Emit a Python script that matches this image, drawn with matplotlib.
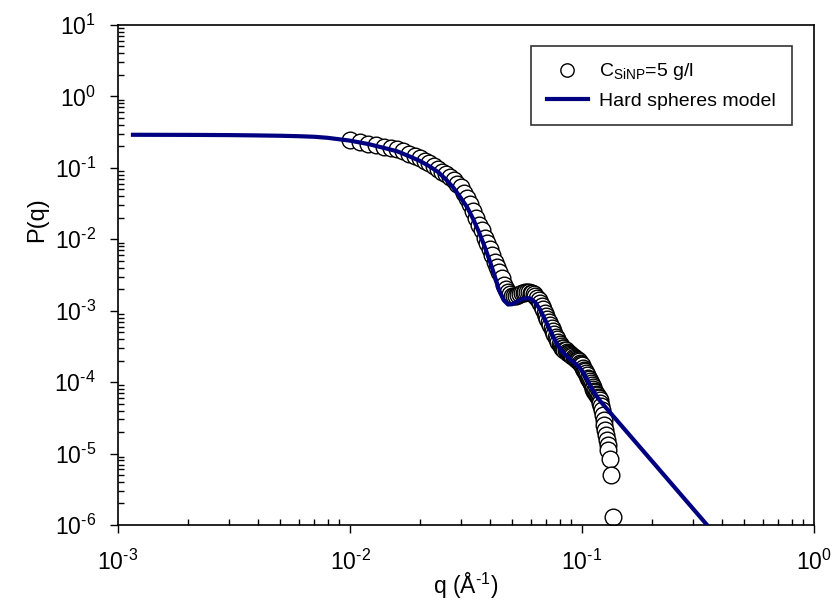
import numpy as np
import matplotlib
matplotlib.use("Agg")
import matplotlib.pyplot as plt
from matplotlib.ticker import LogLocator, NullFormatter, FuncFormatter

plt.rcParams['font.family'] = ['Liberation Sans', 'DejaVu Sans']
plt.rcParams['mathtext.fontset'] = 'custom'
plt.rcParams['mathtext.rm'] = 'Liberation Sans'
plt.rcParams['mathtext.it'] = 'Liberation Sans:italic'

# Measured data, C_SiNP = 5 g/l  (q in 1e-3 A^-1)
q_data_milli = [10, 11, 12, 13, 14, 15, 16, 17, 18, 19, 20, 21, 22, 23, 24, 25, 26, 27, 28, 29,
                30, 31, 32, 33, 34, 35, 36, 37, 38, 39, 40, 41, 42, 43, 44, 45, 46, 47, 48, 49,
                50, 51, 52, 53, 54, 55, 56, 57, 58, 59, 60, 61, 62, 63, 64, 65, 66, 67, 68, 69,
                70, 71, 72, 73, 74, 75, 76, 77, 78, 79, 80, 81, 82, 83, 84, 85, 86, 87, 88, 89,
                90, 91, 92, 93, 94, 95, 96, 97, 98, 99, 100, 101, 102, 103, 104, 105, 106, 107,
                108, 109, 110, 111, 112, 113, 114, 115, 116, 117, 118, 119, 120, 121, 122, 123,
                124, 125, 126, 127, 128, 129, 130, 132, 134, 136]
p_data = [0.2415, 0.230, 0.218, 0.207, 0.197, 0.188, 0.181, 0.170, 0.158, 0.146,
          0.1357, 0.126, 0.118, 0.107, 0.0973, 0.0887, 0.0810, 0.0743, 0.0667, 0.0602,
          0.0531, 0.0451, 0.0382, 0.0315, 0.0249, 0.0199, 0.01585, 0.0135, 0.0104, 0.00873,
          0.00719, 0.00603, 0.00481, 0.00409, 0.00343, 0.00287, 0.00229, 0.00201, 0.00183, 0.00169,
          0.00161, 0.00161, 0.00163, 0.00166, 0.00171, 0.00175, 0.00179, 0.00182, 0.00183, 0.00182,
          0.00179, 0.00174, 0.00169, 0.00159, 0.00149, 0.00141, 0.00128, 0.00115, 0.00104, 0.000929,
          0.000830, 0.000753, 0.000695, 0.000621, 0.000564, 0.000512, 0.000472, 0.000429, 0.000395, 0.000365,
          0.000337, 0.000321, 0.000305, 0.000296, 0.000286, 0.000277, 0.000266, 0.000258, 0.000252, 0.000245,
          0.000240, 0.000234, 0.000226, 0.000220, 0.000214, 0.000207, 0.000201, 0.000195, 0.000187, 0.000181,
          0.000171, 0.000160, 0.000150, 0.000141, 0.000132, 0.000124, 0.000116, 0.000109,
          0.000102, 9.57e-5, 9.12e-5, 8.55e-5, 8.02e-5, 7.52e-5, 7.16e-5, 6.82e-5, 6.50e-5, 6.19e-5,
          5.90e-5, 5.62e-5, 5.11e-5, 4.63e-5, 4.07e-5, 3.47e-5,
          2.95e-5, 2.51e-5, 2.14e-5, 1.82e-5, 1.55e-5, 1.32e-5, 1.12e-5, 8.4e-6, 5.0e-6, 1.29e-6]

# Hard spheres model curve
q_model = [0.00116, 0.002, 0.003, 0.004, 0.005, 0.006, 0.007, 0.008, 0.010, 0.012,
           0.014, 0.016, 0.018, 0.020, 0.022, 0.024, 0.026, 0.028, 0.030, 0.032,
           0.034, 0.036, 0.038, 0.040, 0.042, 0.044, 0.046, 0.048, 0.050, 0.052,
           0.055, 0.058, 0.060, 0.063, 0.066, 0.070, 0.074, 0.078, 0.082, 0.086,
           0.090, 0.095, 0.100, 0.105, 0.110, 0.115, 0.120, 0.346]
p_model = [0.290, 0.289, 0.287, 0.284, 0.281, 0.277, 0.272, 0.263, 0.240, 0.215,
           0.190, 0.170, 0.145, 0.125, 0.105, 0.087, 0.068, 0.052, 0.038, 0.028,
           0.019, 0.0125, 0.0080, 0.0050, 0.0031, 0.0019, 0.00140, 0.00122, 0.00123, 0.00132,
           0.00145, 0.00150, 0.00148, 0.00130, 0.00103, 0.00070, 0.00048, 0.00034, 0.00027, 0.00023,
           0.00020, 0.000175, 0.000145, 0.000110, 0.000082, 0.000065, 0.000054, 1.0e-6]

q_data = np.array(q_data_milli) / 1000.0


def pow10_label(v, pos):
    e = int(round(np.log10(v)))
    s = str(abs(e))
    if e < 0:
        s = r'\text{-}' + s
    return r'$\mathdefault{10^{%s}}$' % s


fig = plt.figure(figsize=(8.34, 6.01), dpi=100)
ax = fig.add_axes([0.1415, 0.1265, 0.8345, 0.832])

ax.plot(q_data, p_data, 'o', ms=12, mfc='white', mec='black', mew=1.0,
        label=r'C$_{\mathrm{SiNP}}$=5 g/l', zorder=2)
ax.plot(q_model, p_model, '-', color='#000080', lw=3, label='Hard spheres model', zorder=3)

ax.set_xscale('log')
ax.set_yscale('log')
ax.set_xlim(1e-3, 1)
ax.set_ylim(1e-6, 10)

ax.xaxis.set_major_locator(LogLocator(base=10, numticks=10))
ax.yaxis.set_major_locator(LogLocator(base=10, numticks=20))
ax.xaxis.set_minor_locator(LogLocator(base=10, subs=np.arange(2, 10), numticks=20))
ax.yaxis.set_minor_locator(LogLocator(base=10, subs=np.arange(2, 10), numticks=20))
ax.xaxis.set_major_formatter(FuncFormatter(pow10_label))
ax.yaxis.set_major_formatter(FuncFormatter(pow10_label))
ax.xaxis.set_minor_formatter(NullFormatter())
ax.yaxis.set_minor_formatter(NullFormatter())

ax.tick_params(which='major', direction='out', length=6, width=1, labelsize=16.5)
ax.tick_params(axis='y', which='major', pad=10)
ax.tick_params(axis='x', which='major', pad=12)
ax.tick_params(which='minor', direction='in', length=4, width=1)
ax.tick_params(top=False, right=False, which='both')
for s in ax.spines.values():
    s.set_linewidth(1.2)

ax.set_xlabel(r'q (Å$^{\text{-}1}$)', fontsize=16.5)
ax.set_ylabel('P(q)', fontsize=17)
ax.xaxis.set_label_coords(0.5, -0.092)
ax.yaxis.set_label_coords(-0.10, 0.61)

leg = ax.legend(loc='upper right', bbox_to_anchor=(0.968, 0.958), borderaxespad=0,
                fontsize=14, frameon=True, fancybox=False, edgecolor='black',
                handlelength=2.1, handletextpad=0.6, labelspacing=0.5, borderpad=0.8,
                markerscale=0.8)
leg.get_frame().set_linewidth(1.2)

fig.savefig('out.png', dpi=100)
